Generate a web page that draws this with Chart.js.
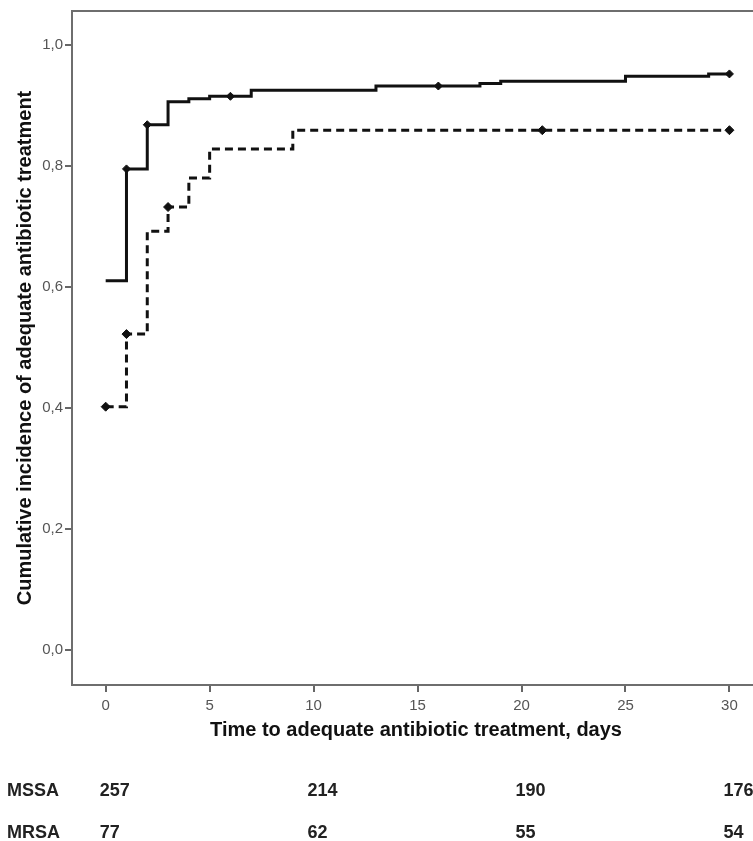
<!DOCTYPE html>
<html>
<head>
<meta charset="utf-8">
<script src="https://cdn.jsdelivr.net/npm/chart.js@4"></script>
<style>
  html, body { margin: 0; padding: 0; background: #fff; overflow: hidden; }
  #wrap { width: 800px; height: 841px; }
</style>
</head>
<body>
<div id="wrap"><canvas id="kmChart" width="800" height="841"></canvas></div>
<script>
// step points (day, cumulative incidence from that day on)
const mssaDays = [0, 1, 2, 3, 4, 5, 7, 13, 18, 19, 25, 29, 30];
const mssaIncidence = [0.610, 0.795, 0.868, 0.906, 0.911, 0.915, 0.925, 0.932, 0.936, 0.940, 0.948, 0.952, 0.952];
const mrsaDays = [0, 1, 2, 3, 4, 5, 9, 30];
const mrsaIncidence = [0.402, 0.522, 0.692, 0.732, 0.780, 0.828, 0.859, 0.859];

// censored marks
const mssaCensorDays = [1, 2, 6, 16, 30];
const mssaCensorValues = [0.795, 0.868, 0.915, 0.932, 0.952];
const mrsaCensorDays = [0, 1, 3, 21, 30];
const mrsaCensorValues = [0.402, 0.522, 0.732, 0.859, 0.859];

// numbers at risk
const riskDays = [0, 10, 20, 30];
const mssaAtRisk = [257, 214, 190, 176];
const mrsaAtRisk = [77, 62, 55, 54];

const xTicks = [0, 5, 10, 15, 20, 25, 30];
const yTicks = [0, 0.2, 0.4, 0.6, 0.8, 1.0];

const toPoints = (xs, ys) => xs.map((x, i) => ({ x: x, y: ys[i] }));

const framePlugin = {
    id: 'frame',
    beforeDatasetsDraw(chart) {
        const { ctx, chartArea: a } = chart;
        ctx.save();
        ctx.strokeStyle = '#6e6e6e';
        ctx.lineWidth = 2;
        ctx.strokeRect(a.left, a.top, a.right - a.left, a.bottom - a.top);
        ctx.restore();
    }
};

const riskTablePlugin = {
    id: 'riskTable',
    afterDraw(chart) {
        const ctx = chart.ctx;
        const xs = chart.scales.x;
        ctx.save();
        ctx.fillStyle = '#222';
        ctx.font = 'bold 18px "Liberation Sans", Arial, sans-serif';
        ctx.textBaseline = 'middle';
        ctx.textAlign = 'left';
        const rows = [['MSSA', mssaAtRisk, 791], ['MRSA', mrsaAtRisk, 833]];
        rows.forEach(([name, vals, y]) => {
            ctx.fillText(name, 7, y);
            vals.forEach((v, i) => {
                ctx.fillText(String(v), xs.getPixelForValue(riskDays[i]) - 6, y);
            });
        });
        ctx.restore();
    }
};

const ctx = document.getElementById('kmChart').getContext('2d');
const kmChart = new Chart(ctx, {
    type: 'line',
    data: {
        datasets: [
            {
                label: 'MSSA',
                data: toPoints(mssaDays, mssaIncidence),
                stepped: true,
                borderColor: '#111',
                borderWidth: 3,
                pointRadius: 0,
                fill: false
            },
            {
                label: 'MRSA',
                data: toPoints(mrsaDays, mrsaIncidence),
                stepped: true,
                borderColor: '#111',
                borderWidth: 3,
                borderDash: [8, 5],
                pointRadius: 0,
                fill: false
            },
            {
                label: 'MSSA censored',
                data: toPoints(mssaCensorDays, mssaCensorValues),
                showLine: false,
                pointStyle: 'rectRot',
                pointRadius: 4,
                backgroundColor: '#111',
                borderColor: '#111',
                borderWidth: 1
            },
            {
                label: 'MRSA censored',
                data: toPoints(mrsaCensorDays, mrsaCensorValues),
                showLine: false,
                pointStyle: 'rectRot',
                pointRadius: 4.5,
                backgroundColor: '#111',
                borderColor: '#111',
                borderWidth: 1
            }
        ]
    },
    options: {
        responsive: false,
        animation: false,
        layout: { padding: { top: 9, right: 40, bottom: 0, left: 0 } },
        plugins: {
            legend: { display: false },
            tooltip: { enabled: false }
        },
        scales: {
            x: {
                type: 'linear',
                min: -1.62,
                max: 31.47,
                afterBuildTicks: (scale) => { scale.ticks = xTicks.map(v => ({ value: v })); },
                afterFit: (scale) => { scale.height = 156; },
                border: { display: false },
                grid: { drawOnChartArea: false, drawTicks: true, tickLength: 7, tickColor: '#666', lineWidth: 2 },
                ticks: {
                    color: '#555',
                    padding: 5,
                    maxRotation: 0,
                    font: { family: '"Liberation Sans", Arial, sans-serif', size: 15 }
                },
                title: {
                    display: true,
                    text: 'Time to adequate antibiotic treatment, days',
                    color: '#111',
                    font: { family: '"Liberation Sans", Arial, sans-serif', size: 20, weight: 'bold' },
                    padding: { top: 0, bottom: 99 }
                }
            },
            y: {
                min: -0.058,
                max: 1.056,
                afterBuildTicks: (scale) => { scale.ticks = yTicks.map(v => ({ value: v })); },
                afterFit: (scale) => { scale.width = 72; },
                border: { display: false },
                grid: { drawOnChartArea: false, drawTicks: true, tickLength: 7, tickColor: '#666', lineWidth: 2 },
                ticks: {
                    color: '#555',
                    padding: 2,
                    font: { family: '"Liberation Sans", Arial, sans-serif', size: 15 },
                    callback: (v) => v.toFixed(1).replace('.', ',')
                },
                title: {
                    display: true,
                    text: 'Cumulative incidence of adequate antibiotic treatment',
                    color: '#111',
                    font: { family: '"Liberation Sans", Arial, sans-serif', size: 20, weight: 'bold' },
                    padding: { top: 13, bottom: 0 }
                }
            }
        }
    },
    plugins: [framePlugin, riskTablePlugin]
});
</script>
</body>
</html>
